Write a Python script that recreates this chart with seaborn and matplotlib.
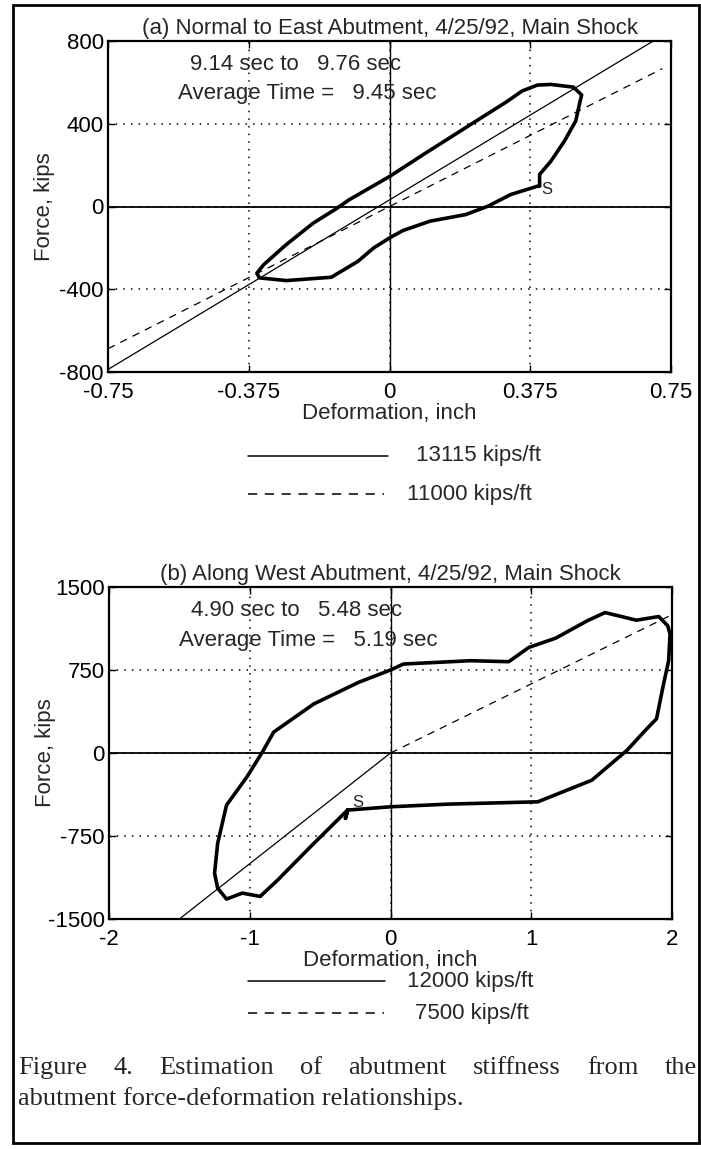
import numpy as np
import pandas as pd
import seaborn as sns
import matplotlib.pyplot as plt
from matplotlib.lines import Line2D
from matplotlib.patches import Rectangle

sns.set_style("ticks")
plt.rcParams['font.family'] = ['Liberation Sans', 'DejaVu Sans']

# (a) Normal to East Abutment - hysteresis loop (inch, kips), starts at "S"
a_loop_x = [0.400, 0.400, 0.430, 0.466, 0.496, 0.508, 0.512, 0.490, 0.430, 0.394,
            0.353, 0.311, 0.215, 0.096, 0.000, -0.108, -0.143, -0.203, -0.275, -0.335,
            -0.353, -0.347, -0.275, -0.155, -0.084, -0.042, 0.000, 0.036, 0.108, 0.203,
            0.263, 0.323, 0.394]
a_loop_y = [98, 155, 219, 316, 413, 510, 539, 577, 590, 587,
            558, 505, 395, 258, 145, 32, -12, -80, -184, -281,
            -321, -345, -358, -342, -265, -200, -152, -116, -71, -39,
            2, 58, 98]
a_stiffness = [13115, 11000]      # kips/ft
a_offset = [32, 0]                # kips at zero deformation
a_fit_x = [(-0.75, 0.75), (-0.75, 0.727)]
a_times = ["9.14 sec to   9.76 sec", "Average Time =   9.45 sec"]

# (b) Along West Abutment
b_loop_x = [-0.305, -0.320, -0.305, 0.000, 0.410, 1.047, 1.430, 1.680, 1.810, 1.890,
            1.940, 1.976, 1.986, 1.970, 1.906, 1.747, 1.524, 1.397, 1.174, 0.983,
            0.840, 0.570, 0.092, 0.000, -0.226, -0.544, -0.830, -0.910, -1.020, -1.165,
            -1.228, -1.250, -1.228, -1.165, -1.053, -0.926, -0.800, -0.544, -0.353, -0.305]
b_loop_y = [-516, -590, -516, -486, -462, -441, -246, 24, 204, 309,
            624, 834, 1074, 1149, 1233, 1200, 1269, 1194, 1038, 954,
            825, 834, 804, 750, 639, 444, 189, 9, -216, -471,
            -816, -1086, -1221, -1320, -1266, -1296, -1146, -816, -576, -516]
b_stiffness = [12000, 7500]
b_offset = [0, 0]
b_fit_x = [(-1.5, 0.0), (0.0, 2.0)]
b_times = ["4.90 sec to   5.48 sec", "Average Time =   5.19 sec"]

FS = 16
fig = plt.figure(figsize=(7.01, 11.49), dpi=100)


def fy(py):
    return 1 - py / 1149


def panel(rect, title, loop_x, loop_y, stiff, offset, fit_x, times, times_xy,
          xlim, ylim, xticks, xlabels, yticks, ylabels, s_xy):
    ax = fig.add_axes(rect)
    ax.grid(True, ls=(0, (1, 4)), color='k', lw=1.1)
    ax.axhline(0, color='k', lw=1.3, zorder=2)
    ax.axvline(0, color='k', lw=1.0, zorder=2)
    for i, (k, b, (x0, x1)) in enumerate(zip(stiff, offset, fit_x)):
        xs = np.array([x0, x1])
        ys = k / 12 * xs + b
        ls = '-' if i == 0 else (0, (6, 5))
        sns.lineplot(x=xs, y=ys, ax=ax, color='k', lw=0.9, linestyle=ls,
                     sort=False, estimator=None)
    sns.lineplot(x=loop_x, y=loop_y, ax=ax, color='k', lw=2.6, sort=False,
                 estimator=None)
    ax.text(s_xy[0], s_xy[1], "S", fontsize=12, ha='left', va='center')
    ax.text(times_xy[0][0], times_xy[0][1], times[0], fontsize=FS, va='center')
    ax.text(times_xy[1][0], times_xy[1][1], times[1], fontsize=FS, va='center')
    ax.set_xlim(xlim)
    ax.set_ylim(ylim)
    ax.set_xticks(xticks, xlabels)
    ax.set_yticks(yticks, ylabels)
    ax.tick_params(direction='in', length=5, width=1, top=True, right=True,
                   labelsize=FS, colors='k')
    ax.tick_params(axis='x', pad=7)
    ax.tick_params(axis='y', pad=3)
    for sp in ax.spines.values():
        sp.set_linewidth(1.6)
        sp.set_color('k')
    ax.set_title(title, fontsize=FS, pad=5)
    ax.set_xlabel("Deformation, inch", fontsize=FS)
    ax.set_ylabel("Force, kips", fontsize=FS)
    ax.xaxis.label.set_va('center')
    ax.yaxis.label.set_va('center')
    ax.xaxis.set_label_coords(0.5, -0.125)
    ax.yaxis.set_label_coords(-0.112, 0.5)
    return ax


panel([108 / 701, fy(372), 563 / 701, 331 / 1149],
      "(a) Normal to East Abutment, 4/25/92, Main Shock",
      a_loop_x, a_loop_y, a_stiffness, a_offset, a_fit_x, a_times,
      [(-0.532, 687), (-0.564, 545)],
      (-0.75, 0.75), (-800, 800),
      [-0.75, -0.375, 0, 0.375, 0.75], ["-0.75", "-0.375", "0", "0.375", "0.75"],
      [-800, -400, 0, 400, 800], ["-800", "-400", "0", "400", "800"],
      (0.405, 82))

panel([109 / 701, fy(919), 563 / 701, 332 / 1149],
      "(b) Along West Abutment, 4/25/92, Main Shock",
      b_loop_x, b_loop_y, b_stiffness, b_offset, b_fit_x, b_times,
      [(-1.42, 1284), (-1.50, 1014)],
      (-2, 2), (-1500, 1500),
      [-2, -1, 0, 1, 2], ["-2", "-1", "0", "1", "2"],
      [-1500, -750, 0, 750, 1500], ["-1500", "-750", "0", "750", "1500"],
      (-0.27, -450))

# legends drawn as in the original figure
legend_rows = [
    (456, 388, 416, '-', "13115 kips/ft"),
    (494, 384, 407, '--', "11000 kips/ft"),
    (981, 385, 407, '-', "12000 kips/ft"),
    (1013, 384, 415, '--', "7500 kips/ft"),
]
for py, x_end, x_txt, ls, label in legend_rows:
    dash = '-' if ls == '-' else (0, (6, 5))
    fig.add_artist(Line2D([248 / 701, x_end / 701], [fy(py), fy(py)],
                          color='k', lw=1.1, linestyle=dash))
    fig.text(x_txt / 701, fy(py), label, fontsize=FS, va='center')

# caption, first line justified
cap_font = dict(family=['Liberation Serif', 'DejaVu Serif'], fontsize=19, va='center')
words = ["Figure", "4.", "Estimation", "of", "abutment", "stiffness", "from", "the"]
texts = [fig.text(0, fy(1068), w, **cap_font) for w in words]
renderer = fig.canvas.get_renderer()
widths = [t.get_window_extent(renderer).width for t in texts]
x_left, x_right = 18, 697
gap = (x_right - x_left - sum(widths)) / (len(words) - 1)
xpos = x_left
for t, w in zip(texts, widths):
    t.set_x(xpos / 701)
    xpos += w + gap
fig.text(18 / 701, fy(1099), "abutment force-deformation relationships.", **cap_font)

# outer frame
fig.add_artist(Rectangle((13 / 701, fy(1143)), 686 / 701, 1138 / 1149,
                         transform=fig.transFigure, fill=False, lw=2, ec='k'))

fig.savefig("out.png", dpi=100)
